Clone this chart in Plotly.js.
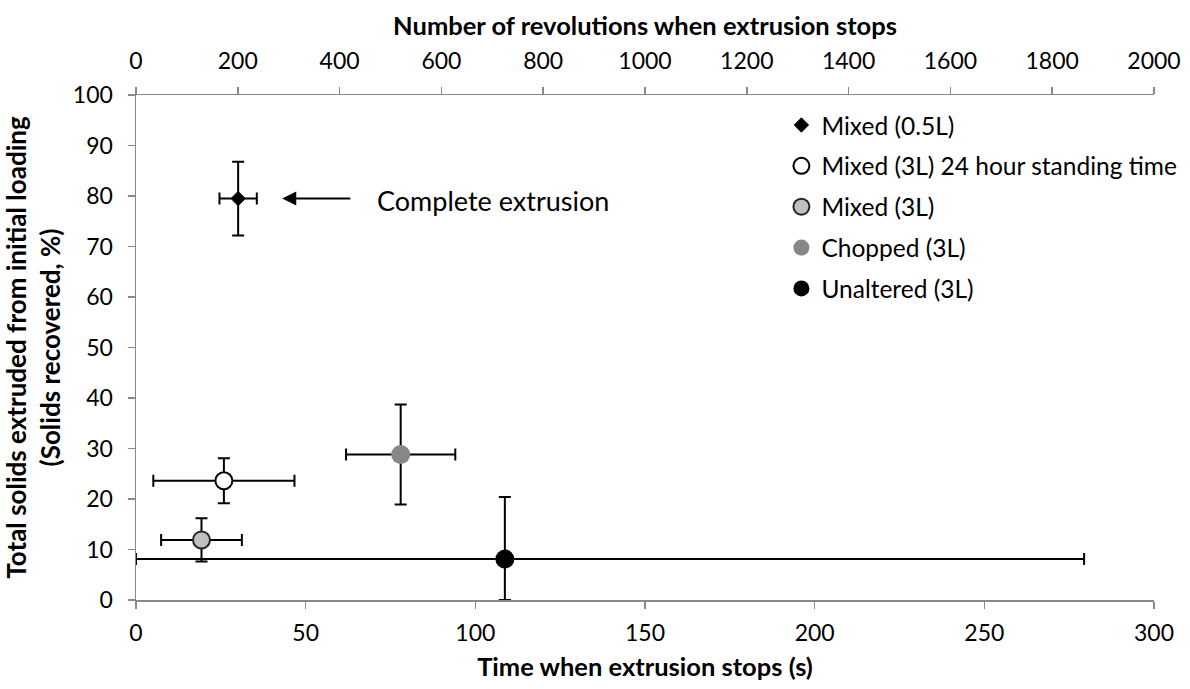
<!DOCTYPE html>
<html>
<head>
<meta charset="utf-8">
<script src="https://cdn.plot.ly/plotly-3.0.1.min.js"></script>
<style>
  html, body { margin: 0; padding: 0; background: #ffffff; }
  #chart { width: 1190px; height: 689px; }
</style>
</head>
<body>
<div id="chart"></div>
<script>
// ---- Data ----
const seriesNames = ['Mixed (0.5L)', 'Mixed (3L) 24 hour standing time', 'Mixed (3L)', 'Chopped (3L)', 'Unaltered (3L)'];
const timeS = [30.1, 25.9, 19.3, 78.0, 108.7];           // Time when extrusion stops (s)
const timeErrPlus = [5.5, 20.8, 11.9, 16.1, 170.7];
const timeErrMinus = [5.5, 20.8, 11.9, 16.1, 108.7];
const solidsPct = [79.5, 23.6, 11.9, 28.8, 8.1];         // Solids recovered (%)
const solidsErrPlus = [7.3, 4.45, 4.3, 9.9, 12.3];
const solidsErrMinus = [7.3, 4.45, 4.3, 9.9, 8.1];
const bottomTicks = [0, 50, 100, 150, 200, 250, 300];
const topTicks = [0, 200, 400, 600, 800, 1000, 1200, 1400, 1600, 1800, 2000];
const yTicks = [0, 10, 20, 30, 40, 50, 60, 70, 80, 90, 100];
const annotationText = 'Complete extrusion';

// ---- Styles ----
const FONT = 'Lato, "Open Sans", sans-serif';
const TICK_SIZE = 23;
const TITLE_SIZE = 25.5;
const markerStyles = [
  {symbol: 'diamond', size: 11, color: '#000000', line: {color: '#000000', width: 1}},
  {symbol: 'circle', size: 17, color: '#ffffff', line: {color: '#000000', width: 2}},
  {symbol: 'circle', size: 17, color: '#c0c0c0', line: {color: '#262626', width: 2}},
  {symbol: 'circle', size: 19, color: '#878787', line: {color: '#878787', width: 0}},
  {symbol: 'circle', size: 19, color: '#000000', line: {color: '#000000', width: 0}}
];

const traces = seriesNames.map((name, i) => ({
  type: 'scatter',
  mode: 'markers',
  name: name,
  legendgroup: 'g' + i,
  x: [timeS[i]],
  y: [solidsPct[i]],
  marker: markerStyles[i],
  error_x: {type: 'data', symmetric: false, array: [timeErrPlus[i]], arrayminus: [timeErrMinus[i]],
            color: '#000000', thickness: 2, width: 6},
  error_y: {type: 'data', symmetric: false, array: [solidsErrPlus[i]], arrayminus: [solidsErrMinus[i]],
            color: '#000000', thickness: 2, width: 6},
  cliponaxis: false
}));

// empty trace that anchors the top axis
traces.push({type: 'scatter', mode: 'markers', x: [], y: [], xaxis: 'x2', showlegend: false, hoverinfo: 'skip'});

const axisLine = {showline: true, linecolor: '#898989', linewidth: 1.5, ticks: 'outside', tickcolor: '#898989',
                  ticklen: 7, tickwidth: 1.5, showgrid: false, zeroline: false, automargin: false};

const layout = {
  width: 1190, height: 689,
  paper_bgcolor: '#ffffff', plot_bgcolor: '#ffffff',
  font: {family: FONT, color: '#000000', size: TICK_SIZE},
  margin: {l: 136, r: 36, t: 95, b: 89, autoexpand: false},
  showlegend: true,
  legend: {x: 0.634, xanchor: 'left', y: 0.985, yanchor: 'top', bgcolor: 'rgba(0,0,0,0)',
           font: {family: FONT, size: 24.5, color: '#000000'}, tracegroupgap: 6, itemwidth: 30},
  xaxis: Object.assign({}, axisLine, {
    range: [0, 300], tickvals: bottomTicks, ticktext: bottomTicks.map(String),
    tickfont: {family: FONT, size: TICK_SIZE}, ticklabelstandoff: 5,
    title: {text: '<b>Time when extrusion stops (s)</b>', font: {family: FONT, size: TITLE_SIZE}, standoff: 13}
  }),
  xaxis2: Object.assign({}, axisLine, {
    overlaying: 'x', side: 'top', anchor: 'y', range: [0, 2000], tickvals: topTicks, ticktext: topTicks.map(String),
    tickfont: {family: FONT, size: TICK_SIZE}, ticklabelstandoff: 8,
    title: {text: '<b>Number of revolutions when extrusion stops</b>', font: {family: FONT, size: TITLE_SIZE}, standoff: 3}
  }),
  yaxis: Object.assign({}, axisLine, {
    range: [0, 100], tickvals: yTicks, ticktext: yTicks.map(String),
    tickfont: {family: FONT, size: TICK_SIZE}, ticklabelstandoff: 10,
    title: {text: '<b>Total solids extruded from initial loading<br>(Solids recovered, %)</b>',
            font: {family: FONT, size: 26}, standoff: 6}
  }),
  annotations: [
    {x: 43.1, y: solidsPct[0], ax: 63.6, ay: solidsPct[0], xref: 'x', yref: 'y', axref: 'x', ayref: 'y',
     showarrow: true, arrowhead: 2, arrowsize: 1.4, arrowwidth: 2, arrowcolor: '#000000', text: ''},
    {x: 70.4, y: solidsPct[0] - 0.3, xref: 'x', yref: 'y', xanchor: 'left', yanchor: 'middle', showarrow: false,
     text: annotationText, font: {family: FONT, size: 27, color: '#000000'}}
  ]
};

Plotly.newPlot('chart', traces, layout, {displayModeBar: false, staticPlot: true});
</script>
</body>
</html>
